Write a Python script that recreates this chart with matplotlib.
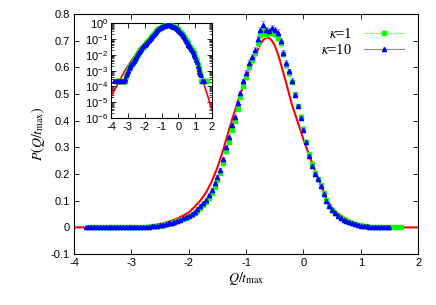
import numpy as np
import matplotlib
matplotlib.use('Agg')
import matplotlib.pyplot as plt
from matplotlib.lines import Line2D
from matplotlib.ticker import LogLocator, NullFormatter

plt.rcParams['font.family'] = ['Liberation Sans', 'DejaVu Sans']
plt.rcParams['mathtext.fontset'] = 'stix'

# red reference curve
curve_q = [-4.0, -3.8, -3.6, -3.4, -3.2, -3.0, -2.8, -2.6, -2.4, -2.2, -2.0, -1.9,
           -1.8, -1.7, -1.6, -1.5, -1.4, -1.3, -1.2, -1.1, -1.0, -0.9, -0.85, -0.8,
           -0.75, -0.7, -0.65, -0.6, -0.55, -0.5, -0.45, -0.4, -0.3, -0.2, -0.1, 0.0,
           0.1, 0.2, 0.3, 0.4, 0.5, 0.6, 0.7, 0.8, 0.9, 1.0, 1.1, 1.2, 1.3, 1.4,
           1.5, 1.6, 1.7, 1.8, 1.9, 2.0]
curve_p = [2.2e-5, 5.6e-5, 1.4e-4, 3.7e-4, 8.9e-4, 2.0e-3, 4.2e-3, 8.5e-3, 0.018, 0.033,
           0.056, 0.077, 0.10, 0.13, 0.172, 0.225, 0.29, 0.365, 0.435, 0.502, 0.56,
           0.612, 0.640, 0.665, 0.688, 0.703, 0.711, 0.710, 0.700, 0.682, 0.653,
           0.618, 0.54, 0.46, 0.395, 0.33, 0.27, 0.215, 0.162, 0.108, 0.073, 0.053,
           0.038, 0.026, 0.017, 0.0105, 0.0046, 0.002, 8.7e-4, 3.8e-4, 1.66e-4,
           7.6e-5, 3.5e-5, 1.6e-5, 7.2e-6, 3.5e-6]

# kappa = 10 (blue), bins of 0.05 from -3.8 to 1.5
q_k10 = np.round(np.arange(-3.8, 1.5001, 0.05), 2)
p_k10 = ([2.2e-4] * 13 +
         [3e-4, 5e-4, 7e-4, 1.0e-3, 1.4e-3, 1.8e-3, 2.2e-3, 2.6e-3, 3.0e-3, 3.3e-3,
          4.2e-3, 5.2e-3, 6.3e-3, 7.5e-3, 0.0095, 0.0125, 0.0155, 0.018, 0.021, 0.025,
          0.029, 0.034, 0.040, 0.044, 0.050, 0.058, 0.069, 0.080, 0.090, 0.103,
          0.120, 0.140, 0.165, 0.190, 0.214, 0.255, 0.300, 0.340, 0.385, 0.415,
          0.465, 0.503, 0.548, 0.580, 0.615, 0.640, 0.665, 0.705, 0.740, 0.760,
          0.740, 0.735, 0.748, 0.740, 0.730, 0.700, 0.655, 0.615, 0.585, 0.550,
          0.497, 0.455, 0.410, 0.365, 0.320, 0.268, 0.230, 0.200, 0.180, 0.155,
          0.125, 0.100, 0.080, 0.064, 0.053, 0.043, 0.035, 0.029, 0.024, 0.019,
          0.015, 0.012, 0.0095, 0.0070, 0.0050, 0.0035, 0.0020, 0.0013, 8e-4, 6e-4,
          5e-4] +
         [2.2e-4] * 3)
e_k10 = ([0.0005] * 13 + [0.001] * 13 + [0.003] * 11 + [0.006] * 10 + [0.009] * 9 +
         [0.012] * 15 + [0.009] * 10 + [0.006] * 8 + [0.003] * 8 + [0.001] * 10)

# kappa = 1 (green), bins of 0.05 from -3.7 to 1.7
q_k1 = np.round(np.arange(-3.7, 1.7001, 0.05), 2)
p_k1 = ([2.2e-4] * 12 +
        [4.5e-4, 6.5e-4, 9e-4, 1.2e-3, 1.6e-3, 2.0e-3, 2.4e-3, 2.8e-3, 3.2e-3,
         3.9e-3, 4.8e-3, 5.8e-3, 7.0e-3, 0.0088, 0.0112, 0.014, 0.017, 0.020, 0.023,
         0.027, 0.031, 0.036, 0.041, 0.047, 0.054, 0.063, 0.073, 0.084, 0.096,
         0.112, 0.130, 0.152, 0.178, 0.205, 0.240, 0.285, 0.320, 0.365, 0.400,
         0.445, 0.490, 0.530, 0.565, 0.600, 0.628, 0.655, 0.690, 0.722, 0.735,
         0.725, 0.735, 0.730, 0.725, 0.712, 0.690, 0.650, 0.610, 0.578, 0.545,
         0.500, 0.455, 0.415, 0.370, 0.322, 0.275, 0.238, 0.205, 0.182, 0.158,
         0.128, 0.104, 0.082, 0.066, 0.054, 0.044, 0.036, 0.030, 0.025, 0.020,
         0.016, 0.013, 0.010, 0.0075, 0.0055, 0.0038, 0.0024, 0.0015, 9e-4, 6e-4] +
        [2.2e-4] * 8)
e_k1 = ([0.0005] * 11 + [0.001] * 13 + [0.003] * 11 + [0.006] * 10 + [0.009] * 9 +
        [0.012] * 15 + [0.009] * 10 + [0.006] * 8 + [0.003] * 8 + [0.001] * 14)

GREEN = '#00ff00'
GREEN_BAR = '#80ff80'
BLUE = '#0000ff'
BLUE_BAR = '#8080ff'


def style_axes(ax, size):
    ax.tick_params(direction='in', top=True, right=True, labelsize=size,
                   length=3.5, width=0.6, pad=3)
    ax.tick_params(which='minor', direction='in', top=True, right=True,
                   length=2, width=0.5)
    for s in ax.spines.values():
        s.set_linewidth(0.8)


fig = plt.figure(figsize=(4.36, 3.05), dpi=100)
ax = fig.add_axes([0.170, 0.167, 0.789, 0.787])

ax.plot(curve_q, curve_p, color='red', lw=1.5, zorder=2)
ax.errorbar(q_k1, p_k1, yerr=e_k1, fmt='s', ms=3.3, color=GREEN, mec=GREEN,
            ecolor=GREEN_BAR, elinewidth=0.6, capsize=1.5, capthick=0.6, zorder=3)
ax.errorbar(q_k10, p_k10, yerr=e_k10, fmt='^', ms=3.0, color=BLUE, mec=BLUE,
            ecolor=BLUE_BAR, elinewidth=0.6, capsize=1.5, capthick=0.6, zorder=4)

ax.set_xlim(-4, 2)
ax.set_ylim(-0.1, 0.8)
ax.set_xticks(np.arange(-4, 2.1, 1))
ax.set_yticks(np.arange(-0.1, 0.81, 0.1))
ax.set_yticklabels(['-0.1', '0', '0.1', '0.2', '0.3', '0.4', '0.5', '0.6', '0.7', '0.8'])
ax.set_xticklabels(['-4', '-3', '-2', '-1', '0', '1', '2'])
style_axes(ax, 8)
ax.set_xlabel(r'$Q/t_{\rm max}$', fontsize=10, labelpad=1)
ax.set_ylabel(r'$P(Q/t_{\rm max})$', fontsize=10, labelpad=3)

handles = [
    Line2D([], [], color=GREEN_BAR, lw=0.8, marker='s', ms=3.3,
           mfc=GREEN, mec=GREEN),
    Line2D([], [], color=BLUE_BAR, lw=0.8, marker='^', ms=3.0,
           mfc=BLUE, mec=BLUE),
]
leg = ax.legend(handles, [r'$\kappa$=1', r'$\kappa$=10'], loc='upper right',
                markerfirst=False, frameon=False, handlelength=2.8,
                fontsize=10.5, borderaxespad=0.3, labelspacing=0.15,
                bbox_to_anchor=(0.99, 0.99))
for t in leg.get_texts():
    t.set_family(['Liberation Serif', 'DejaVu Serif'])

# inset, log scale
ins = fig.add_axes([0.2546, 0.613, 0.2317, 0.311])
ins.plot(curve_q, curve_p, color='red', lw=1.2, zorder=2)
ins.plot(q_k1, p_k1, 's', ms=3.0, color=GREEN, mec=GREEN, zorder=3)
ins.plot(q_k10, p_k10, '^', ms=2.7, color=BLUE, mec=BLUE, zorder=4)
ins.set_yscale('log')
ins.set_xlim(-4, 2)
ins.set_ylim(1e-6, 1)
ins.set_xticks(np.arange(-4, 2.1, 1))
ins.set_xticklabels(['-4', '-3', '-2', '-1', '0', '1', '2'])
ins.yaxis.set_major_locator(LogLocator(base=10, numticks=10))
ins.yaxis.set_minor_locator(LogLocator(base=10, subs=np.arange(2, 10), numticks=10))
ins.yaxis.set_minor_formatter(NullFormatter())
style_axes(ins, 8)
ins.tick_params(axis='y', pad=2)
ins.tick_params(axis='x', pad=3)

fig.savefig('out.png', dpi=100)
